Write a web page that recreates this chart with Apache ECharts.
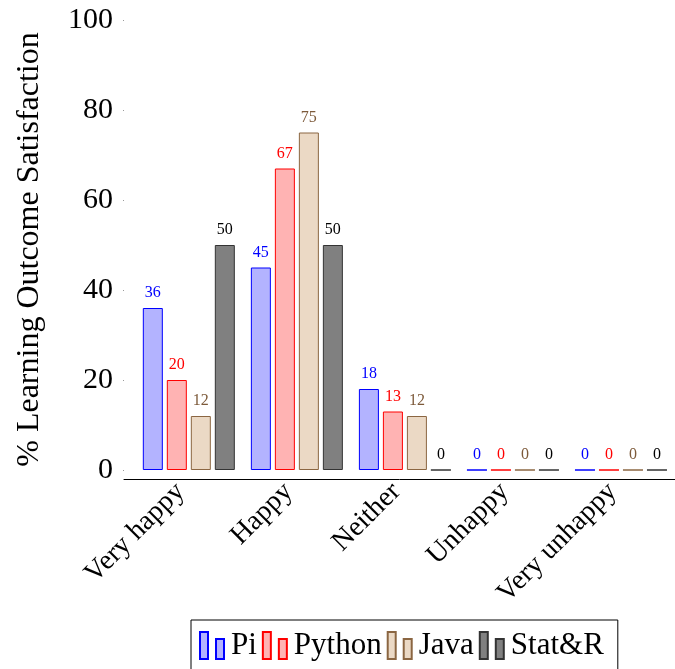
<!DOCTYPE html>
<html>
<head>
<meta charset="utf-8">
<script src="https://cdn.jsdelivr.net/npm/echarts@6/dist/echarts.min.js"></script>
<style>
  html, body { margin: 0; padding: 0; background: #fff; }
  #chart { width: 675px; height: 669px; }
</style>
</head>
<body>
<div id="chart"></div>
<script>
const categories = ['Very happy', 'Happy', 'Neither', 'Unhappy', 'Very unhappy']
const piValues = [36, 45, 18, 0, 0]
const pythonValues = [20, 67, 13, 0, 0]
const javaValues = [12, 75, 12, 0, 0]
const statRValues = [50, 50, 0, 0, 0]
const yTicks = [0, 20, 40, 60, 80, 100]

const font = 'Liberation Serif'
// two little bars, like the pgfplots ybar legend image
const legendIcon = 'path://M0,0 h8 v27 h-8 Z M16,7 h8 v20 h-8 Z'

function makeSeries(name, values, fill, border, labelColor) {
  return {
    name: name,
    type: 'bar',
    barWidth: 20,
    barGap: '20%',
    data: values.map((v, i) => [i, v]),
    itemStyle: { color: fill, borderColor: border, borderWidth: 1 },
    label: {
      show: true,
      position: 'top',
      distance: 7,
      color: labelColor,
      fontFamily: font,
      fontSize: 16,
      formatter: p => p.value[1]
    },
    animation: false
  }
}

const chart = echarts.init(document.getElementById('chart'))
chart.setOption({
  textStyle: { fontFamily: font, color: '#000' },
  grid: { left: 124, right: 0, top: 20, bottom: 190 },
  legend: {
    left: 191,
    top: 620,
    padding: [10, 14, 10, 8],
    borderColor: '#000',
    borderWidth: 1,
    itemWidth: 24,
    itemHeight: 27,
    itemGap: 5,
    icon: legendIcon,
    textStyle: { fontFamily: font, fontSize: 31, color: '#000', padding: [0, 0, 0, 2] },
    data: ['Pi', 'Python', 'Java', 'Stat&R']
  },
  xAxis: {
    type: 'value',
    min: -0.6,
    max: 4.5,
    axisLine: { show: true, onZero: false, lineStyle: { color: '#000', width: 1 } },
    axisTick: { show: false },
    splitLine: { show: false },
    axisLabel: {
      customValues: [0, 1, 2, 3, 4],
      formatter: v => categories[Math.round(v)],
      rotate: 45,
      margin: 0,
      padding: [0, 12, 0, 0],
      fontFamily: font,
      fontSize: 28,
      color: '#000'
    }
  },
  yAxis: {
    type: 'value',
    min: -2,
    max: 100,
    name: '% Learning Outcome Satisfaction',
    nameLocation: 'middle',
    nameGap: 78,
    nameTextStyle: { fontFamily: font, fontSize: 32, color: '#000' },
    axisLine: { show: false, onZero: false },
    axisTick: { show: true, customValues: yTicks, length: 1, lineStyle: { color: '#999' } },
    splitLine: { show: false },
    axisLabel: {
      customValues: yTicks,
      margin: 11,
      fontFamily: font,
      fontSize: 30,
      color: '#000'
    }
  },
  series: [
    makeSeries('Pi', piValues, '#b3b3ff', '#0000ff', '#0000ff'),
    makeSeries('Python', pythonValues, '#ffb3b3', '#ff0000', '#ff0000'),
    makeSeries('Java', javaValues, '#ebd9c5', '#8b6642', '#7d5a3a'),
    makeSeries('Stat&R', statRValues, '#808080', '#333333', '#000000')
  ]
})
</script>
</body>
</html>
